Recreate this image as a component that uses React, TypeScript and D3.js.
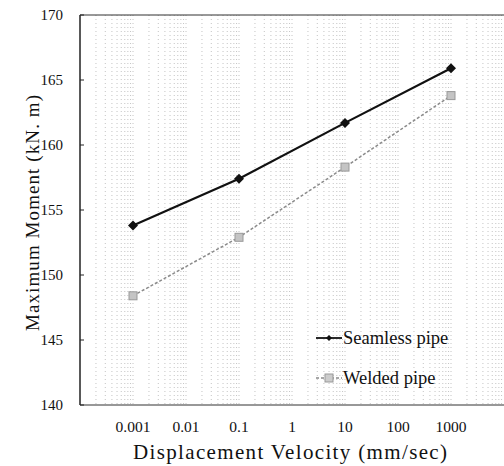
import React from "react";
import * as d3 from "d3";

const velocities = [0.001, 0.1, 10, 1000];
const seamless = [153.8, 157.4, 161.7, 165.9];
const welded = [148.4, 152.9, 158.3, 163.8];
const xTickValues = [0.001, 0.01, 0.1, 1, 10, 100, 1000];
const xTickLabels = ["0.001", "0.01", "0.1", "1", "10", "100", "1000"];
const yTickValues = [140, 145, 150, 155, 160, 165, 170];

const W = 504;
const H = 466;
const m = { left: 80, top: 15, right: 0, bottom: 62 };

export default function App() {
  const x = d3.scaleLog().domain([1e-4, 1e4]).range([m.left, W - m.right]);
  const y = d3.scaleLinear().domain([140, 170]).range([H - m.bottom + 1, m.top]);

  const minor: number[] = [];
  for (let e = -4; e < 4; e++) {
    for (let k = 1; k <= 9; k++) {
      const v = k * Math.pow(10, e);
      if (v > 1e-4) minor.push(v);
    }
  }

  const line = d3
    .line<number>()
    .x((_, i) => x(velocities[i]))
    .y((d) => y(d));

  const font = "'Liberation Serif', 'DejaVu Serif', serif";
  const y0 = y(140);
  const y1 = y(170);

  return (
    <svg width={W} height={H} style={{ position: "absolute", left: 0, top: 0, background: "#fff" }} fontFamily={font}>
      <rect width={W} height={H} fill="#fff" />
      {minor.map((v, i) => (
        <line
          key={i}
          x1={x(v)}
          x2={x(v)}
          y1={y1}
          y2={y0}
          stroke="#c4c4c4"
          strokeWidth={1}
          strokeDasharray="1,3"
        />
      ))}
      {/* axes */}
      <line x1={m.left} x2={m.left} y1={y1} y2={y0} stroke="#222" strokeWidth={1.5} />
      <line x1={m.left} x2={W} y1={y0} y2={y0} stroke="#333" strokeWidth={1.1} />
      <line x1={m.left} x2={W} y1={y1} y2={y1} stroke="#333" strokeWidth={1.1} />
      {yTickValues.map((v) => (
        <g key={v}>
          <line x1={m.left} x2={m.left + 4} y1={y(v)} y2={y(v)} stroke="#222" />
          <text x={63} y={y(v)} dy="0.35em" textAnchor="end" fontSize={15} fill="#111">
            {v}
          </text>
        </g>
      ))}
      {xTickValues.map((v, i) => (
        <text key={v} x={x(v)} y={432} textAnchor="middle" fontSize={15.5} fill="#111">
          {xTickLabels[i]}
        </text>
      ))}
      <text x={133} y={459} textLength={314} lengthAdjust="spacing" fontSize={21} fill="#111">
        Displacement Velocity (mm/sec)
      </text>
      <text
        transform={`translate(32,${(y0 + y1) / 2 + 3}) rotate(-90)`}
        textAnchor="middle"
        dy="0.35em"
        fontSize={19}
        textLength={236}
        lengthAdjust="spacing"
        fill="#111"
      >
        Maximum Moment  (kN. m)
      </text>
      {/* welded */}
      <path d={line(welded) || ""} fill="none" stroke="#8a8a8a" strokeWidth={1.5} strokeDasharray="3,2" />
      {welded.map((v, i) => (
        <rect key={i} x={x(velocities[i]) - 4} y={y(v) - 4} width={8} height={8} fill="#c4c4c4" stroke="#999" strokeWidth={1} />
      ))}
      {/* seamless */}
      <path d={line(seamless) || ""} fill="none" stroke="#111" strokeWidth={2.2} />
      {seamless.map((v, i) => {
        const cx = x(velocities[i]);
        const cy = y(v);
        return (
          <path key={i} d={`M${cx},${cy - 5}L${cx + 5},${cy}L${cx},${cy + 5}L${cx - 5},${cy}Z`} fill="#111" />
        );
      })}
      {/* legend */}
      <line x1={316} x2={342} y1={338} y2={338} stroke="#111" strokeWidth={1.8} />
      <path d="M329,335L332,338L329,341L326,338Z" fill="#111" />
      <text x={343} y={338} dy="0.35em" fontSize={18.5} fill="#111">
        Seamless pipe
      </text>
      <line x1={316} x2={342} y1={378} y2={378} stroke="#8a8a8a" strokeWidth={1.4} strokeDasharray="3,2" />
      <rect x={325} y={374} width={8} height={8} fill="#ccc" stroke="#999" />
      <text x={343} y={378} dy="0.35em" fontSize={18.5} fill="#111">
        Welded pipe
      </text>
    </svg>
  );
}
